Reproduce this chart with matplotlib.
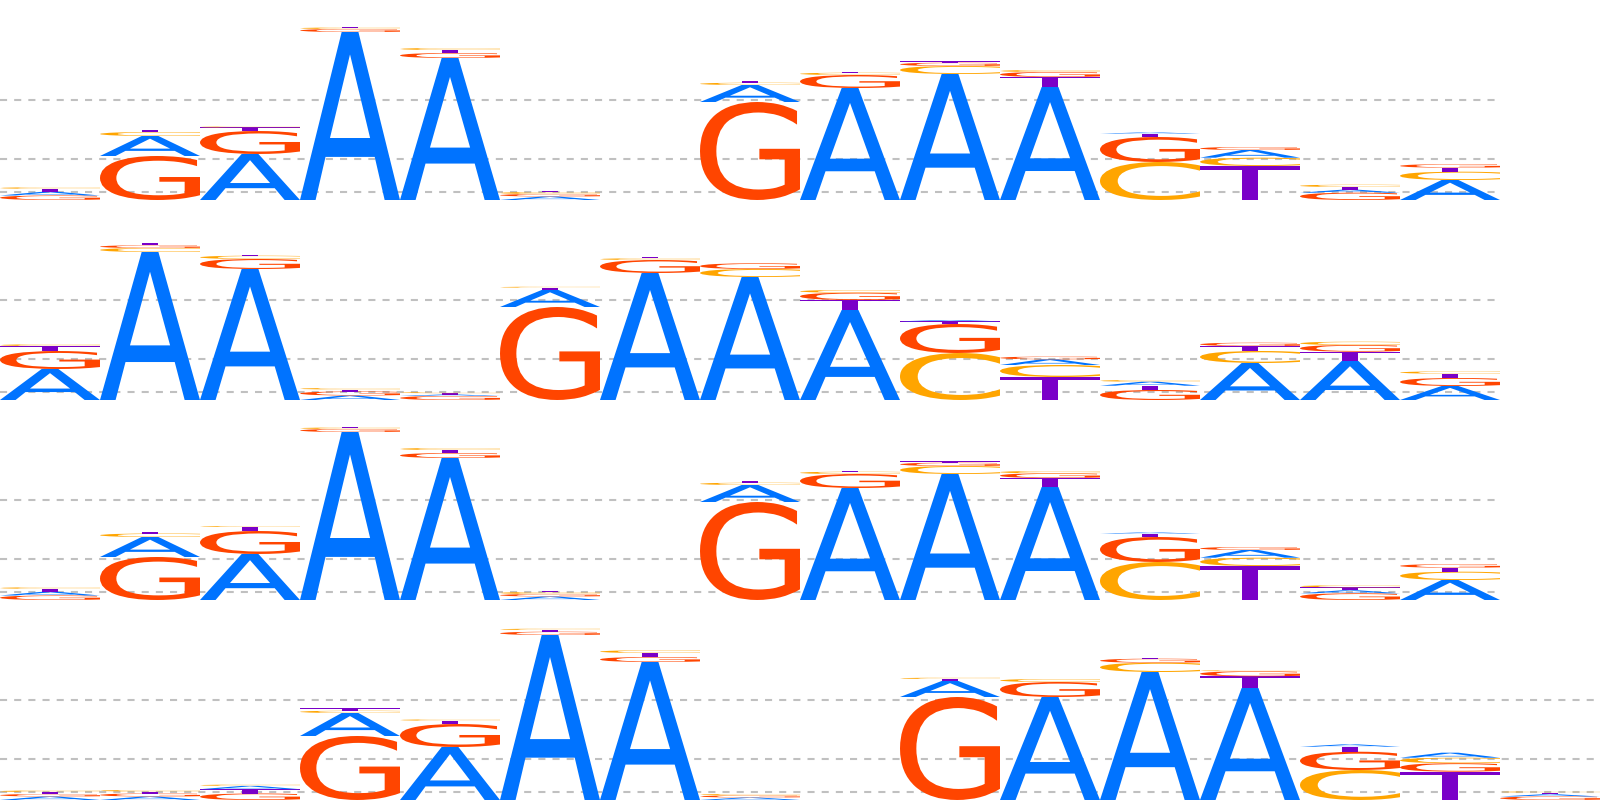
import matplotlib
matplotlib.use("Agg")
import matplotlib.pyplot as plt
from matplotlib.textpath import TextPath
from matplotlib.patches import PathPatch
from matplotlib.font_manager import FontProperties
from matplotlib.transforms import Affine2D

# Letter heights per position (stack heights), one list per base, per motif row
bases = ["A", "C", "G", "T"]

# Row 1 (15 positions)
r1_A = [0.037, 0.20, 0.46, 1.68, 1.42, 0.035, 0.0, 0.17, 1.12, 1.26, 1.13, 0.013, 0.077, 0.030, 0.20]
r1_C = [0.015, 0.04, 0.01, 0.015, 0.02, 0.02, 0.0, 0.023, 0.023, 0.08, 0.02, 0.38, 0.083, 0.023, 0.083]
r1_G = [0.045, 0.44, 0.23, 0.03, 0.05, 0.025, 0.0, 0.98, 0.13, 0.033, 0.05, 0.25, 0.03, 0.073, 0.035]
r1_T = [0.030, 0.02, 0.035, 0.01, 0.03, 0.015, 0.0, 0.02, 0.01, 0.013, 0.10, 0.033, 0.34, 0.027, 0.04]

# Row 2 (15 positions)
r2_A = [0.31, 1.48, 1.31, 0.045, 0.015, 0.17, 1.27, 1.23, 0.90, 0.013, 0.057, 0.04, 0.37, 0.39, 0.14]
r2_C = [0.017, 0.04, 0.033, 0.015, 0.01, 0.01, 0.017, 0.08, 0.027, 0.47, 0.12, 0.017, 0.12, 0.033, 0.023]
r2_G = [0.18, 0.027, 0.10, 0.04, 0.04, 0.93, 0.13, 0.057, 0.073, 0.29, 0.027, 0.10, 0.033, 0.067, 0.08]
r2_T = [0.05, 0.023, 0.005, 0.02, 0.013, 0.023, 0.013, 0.005, 0.10, 0.027, 0.23, 0.043, 0.05, 0.093, 0.043]

# Row 3 (15 positions)
r3_A = [0.037, 0.20, 0.46, 1.68, 1.42, 0.035, 0.0, 0.17, 1.12, 1.26, 1.13, 0.013, 0.077, 0.030, 0.20]
r3_C = [0.015, 0.035, 0.01, 0.015, 0.02, 0.02, 0.0, 0.023, 0.023, 0.08, 0.023, 0.38, 0.083, 0.02, 0.083]
r3_G = [0.045, 0.43, 0.23, 0.03, 0.05, 0.025, 0.0, 0.98, 0.14, 0.033, 0.047, 0.25, 0.03, 0.067, 0.035]
r3_T = [0.030, 0.02, 0.04, 0.01, 0.03, 0.015, 0.0, 0.02, 0.01, 0.013, 0.09, 0.033, 0.34, 0.03, 0.04]

# Row 4 (16 positions)
r4_A = [0.035, 0.035, 0.033, 0.23, 0.53, 1.65, 1.38, 0.025, 0.0, 0.16, 1.03, 1.28, 1.12, 0.023, 0.05, 0.022]
r4_C = [0.015, 0.015, 0.013, 0.023, 0.013, 0.013, 0.027, 0.015, 0.0, 0.013, 0.03, 0.093, 0.01, 0.30, 0.055, 0.01]
r4_G = [0.025, 0.03, 0.065, 0.64, 0.23, 0.033, 0.05, 0.02, 0.0, 1.03, 0.15, 0.04, 0.05, 0.183, 0.085, 0.035]
r4_T = [0.02, 0.02, 0.043, 0.023, 0.033, 0.017, 0.04, 0.005, 0.0, 0.02, 0.005, 0.005, 0.117, 0.05, 0.283, 0.018]

rows = [
    (r1_A, r1_C, r1_G, r1_T),
    (r2_A, r2_C, r2_G, r2_T),
    (r3_A, r3_C, r3_G, r3_T),
    (r4_A, r4_C, r4_G, r4_T),
]

grid_levels = [0.08, 0.41, 1.0]

colors = {"A": "#0073FF", "C": "#FFA500", "G": "#FF4500", "T": "#7A00C8"}
fp = FontProperties(family="DejaVu Sans", weight="normal")


def draw_letter(ax, ch, x, y, w, h, color):
    if h <= 0:
        return
    tp = TextPath((0, 0), ch, size=1, prop=fp)
    bb = tp.get_extents()
    t = (Affine2D().translate(-bb.x0, -bb.y0)
         .scale(w / bb.width, h / bb.height)
         .translate(x, y))
    path = t.transform_path(tp)
    ax.add_patch(PathPatch(path, facecolor=color, edgecolor="none", lw=0, zorder=2))


fig = plt.figure(figsize=(16, 8), dpi=100)
fig.patch.set_facecolor("white")

for i, row in enumerate(rows):
    ax = fig.add_axes([0, 1 - 0.25 * (i + 1), 1, 0.25])
    n = len(row[0])
    ax.set_xlim(0, 16)
    ax.set_ylim(0, 2)
    ax.axis("off")
    ax.hlines(grid_levels, 0, n, colors="#C0C0C0", lw=1.5,
              linestyles=(0, (3.4, 3.4)), zorder=0)
    for p in range(n):
        vals = [(row[k][p], bases[k]) for k in range(4)]
        vals.sort(key=lambda v: -v[0])
        y0 = 0.0
        for h, b in vals:
            draw_letter(ax, b, p, y0, 1.0, h, colors[b])
            y0 += h

fig.savefig("out.png", dpi=100, facecolor="white")
